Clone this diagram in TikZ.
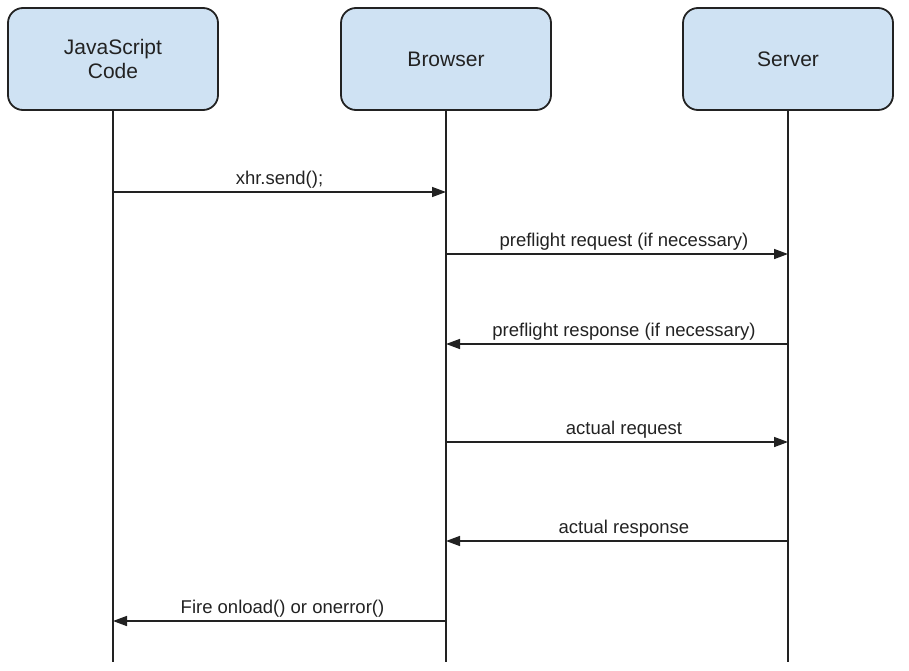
\documentclass[tikz,border=0pt]{standalone}
\usepackage{fontspec}
\setmainfont{Liberation Sans}
\usetikzlibrary{arrows.meta}
\usetikzlibrary{positioning}
\definecolor{boxfill}{HTML}{CFE2F3}
\definecolor{ink}{HTML}{222222}

\begin{document}
\begin{tikzpicture}[x=1pt, y=-1pt]

    \tikzstyle{actor}    = [draw=ink, line width=1.8pt, fill=boxfill, rounded corners=15pt, minimum width=210pt, minimum height=102pt, align=center, font=\fontsize{21}{24}\selectfont, text=ink];
    \tikzstyle{lifeline} = [draw=ink, line width=1.8pt];
    \tikzstyle{msg}      = [draw=ink, line width=1.5pt, -{Triangle[length=14pt,width=10pt]}];
    \tikzstyle{msg-text} = [font=\fontsize{18.5}{22}\selectfont, text=ink, above=0pt];

    \useasboundingbox (0,0) rectangle (909,671);

    %
    % Participants
    %
    \node[actor] (js)      at (113,59) {JavaScript\\Code};
    \node[actor] (browser) at (446,59) {Browser};
    \node[actor] (server)  at (788,59) {Server};

    % Lifeline ends
    \coordinate (js-end)      at (113,662);
    \coordinate (browser-end) at (446,662);
    \coordinate (server-end)  at (788,662);

    \draw[lifeline] (js.south)      -- (js-end);
    \draw[lifeline] (browser.south) -- (browser-end);
    \draw[lifeline] (server.south)  -- (server-end);

    %
    % Message rows
    %
    \coordinate (row-1) at (0,192);
    \coordinate (row-2) at (0,254);
    \coordinate (row-3) at (0,344);
    \coordinate (row-4) at (0,442);
    \coordinate (row-5) at (0,541);
    \coordinate (row-6) at (0,621);

    \draw[msg] (js |- row-1)      -- node[msg-text] {xhr.send();}                                 (browser |- row-1);
    \draw[msg] (browser |- row-2) -- node[msg-text, xshift=7pt] {preflight request (if necessary)}  (server |- row-2);
    \draw[msg] (server |- row-3)  -- node[msg-text, xshift=7pt] {preflight response (if necessary)} (browser |- row-3);
    \draw[msg] (browser |- row-4) -- node[msg-text, xshift=7pt] {actual request}                    (server |- row-4);
    \draw[msg] (server |- row-5)  -- node[msg-text, xshift=7pt] {actual response}                   (browser |- row-5);
    \draw[msg] (browser |- row-6) -- node[msg-text, xshift=3pt] {Fire onload() or onerror()}        (js |- row-6);
\end{tikzpicture}
\end{document}
